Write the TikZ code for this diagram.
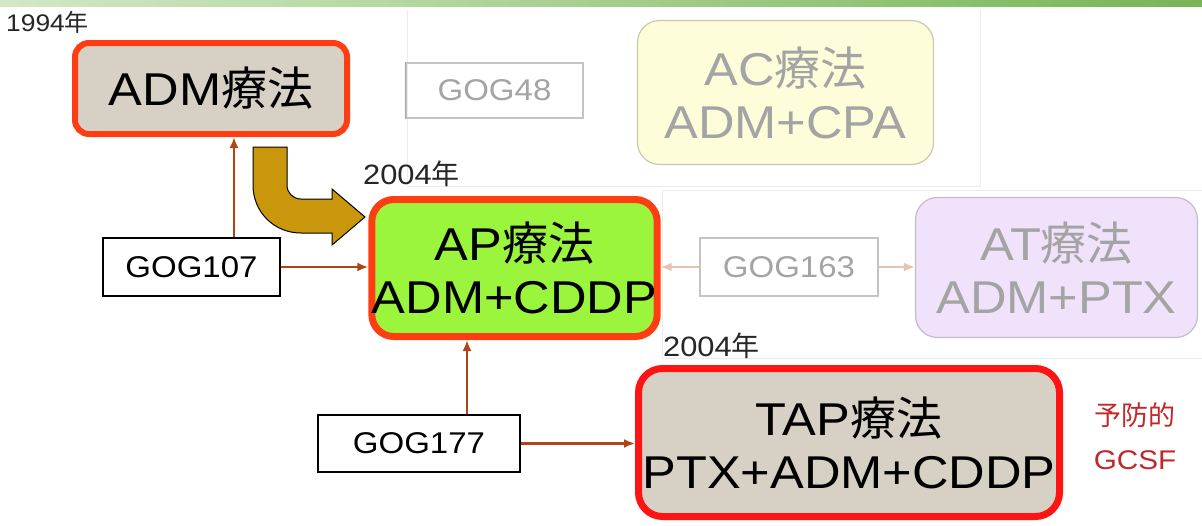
\documentclass[tikz,border=0pt]{standalone}
\usepackage{fontspec}
\setmainfont{Liberation Sans}[FakeStretch=1.1]
\newfontfamily\cjk{Noto Sans CJK JP}
\usetikzlibrary{arrows.meta}
\newcommand\J[1]{{\cjk #1}}
\definecolor{beige}{HTML}{D7D1C5}
\definecolor{orangered}{HTML}{FF3D12}
\definecolor{apgreen}{HTML}{9BF53C}
\definecolor{tapred}{HTML}{FF1414}
\definecolor{acfill}{HTML}{FDFDDA}
\definecolor{acdraw}{HTML}{C9C9B0}
\definecolor{atfill}{HTML}{EFE2FA}
\definecolor{atdraw}{HTML}{C4BCCC}
\definecolor{graytext}{HTML}{A4A4A4}
\definecolor{graybox}{HTML}{C4C4C4}
\definecolor{arrowbrown}{HTML}{B04418}
\definecolor{pinkarrow}{HTML}{E6C2B2}
\definecolor{gold}{HTML}{C9960C}
\definecolor{faint}{HTML}{ECECEC}
\definecolor{gcsfred}{HTML}{C0282A}
\definecolor{stripeL}{HTML}{D3E8C6}
\definecolor{stripeR}{HTML}{78B556}
\begin{document}
\begin{tikzpicture}[x=1pt,y=-1pt,
  bigbox/.style={rectangle, inner sep=0pt, align=center, font=\fontsize{46}{53}\selectfont},
  gogbox/.style={rectangle, inner sep=0pt, draw=black, line width=1.2pt, font=\fontsize{30}{34}\selectfont},
  faintgog/.style={gogbox, draw=graybox, text=graytext},
  yearlbl/.style={inner sep=0pt, anchor=west, text=black!85},
  conn/.style={draw=arrowbrown, line width=2.6pt, -{Latex[length=11pt,width=9pt]}},
  pconn/.style={draw=pinkarrow, line width=2.6pt, -{Latex[length=11pt,width=9pt]}},
  faintline/.style={draw=faint, line width=1pt}]
\useasboundingbox (0,0) rectangle (1202,525);
\fill[white] (0,0) rectangle (1202,525);
% top stripe
\shade[left color=stripeL, right color=stripeR] (0,0) rectangle (1202,6);
% faint panel outlines
\draw[faintline] (407,10) -- (407,186) -- (980,186) -- (980,10);
\draw[faintline] (1202,190) -- (662,190) -- (662,358) -- (1202,358);
% boxes
\node[bigbox, fill=beige, draw=orangered, line width=6pt, rounded corners=14pt,
      minimum width=272, minimum height=91] (adm) at (211,88.5) {ADM\J{療法}};
\node[faintgog, minimum width=177, minimum height=55] (gog48) at (494.5,90.5) {GOG48};
\draw[gray!70, line width=1.2pt] (gog48.north west) -- (gog48.south west);
\node[bigbox, fill=acfill, draw=acdraw, line width=1.2pt, rounded corners=22pt, text=graytext,
      minimum width=296, minimum height=144] (ac) at (785.5,92.5) {AC\J{療法}\\ADM+CPA};
\node[bigbox, fill=apgreen, draw=orangered, line width=7pt, rounded corners=22pt,
      minimum width=278, minimum height=137] (ap) at (514.5,268) {AP\J{療法}\\ADM+CDDP};
\node[gogbox, minimum width=177, minimum height=58] (gog107) at (191.5,267) {GOG107};
\node[faintgog, minimum width=178, minimum height=58] (gog163) at (789,267) {GOG163};
\node[bigbox, fill=atfill, draw=atdraw, line width=1.2pt, rounded corners=22pt, text=graytext,
      minimum width=282, minimum height=140] (at) at (1056.5,267.5) {AT\J{療法}\\ADM+PTX};
\node[gogbox, minimum width=202, minimum height=57] (gog177) at (419,443.5) {GOG177};
\node[bigbox, fill=beige, draw=tapred, line width=7pt, rounded corners=24pt,
      minimum width=421, minimum height=148] (tap) at (849,442.5) {TAP\J{療法}\\PTX+ADM+CDDP};
% labels
\node[yearlbl, font=\fontsize{24}{26}\selectfont] (y1994) at (6,22) {1994\J{年}};
\node[yearlbl, font=\fontsize{28}{30}\selectfont] (y2004a) at (363,174) {2004\J{年}};
\node[yearlbl, font=\fontsize{28}{30}\selectfont] (y2004b) at (663,346) {2004\J{年}};
\node[inner sep=0pt, align=center, text=gcsfred, font=\fontsize{27}{44}\selectfont] (gcsf) at (1135,436) {\J{予防的}\\GCSF};
% connectors
\coordinate (c1) at (234,0);
\coordinate (c2) at (467,0);
\draw[conn] (gog107.north -| c1) -- (adm.south -| c1);
\draw[conn] (gog107.east) -- (gog107.east -| ap.west);
\draw[conn] (gog177.north -| c2) -- (ap.south -| c2);
\draw[conn] (gog177.east) -- (gog177.east -| tap.west);
\draw[pconn] (gog163.west) -- (gog163.west -| ap.east);
\draw[pconn] (gog163.east) -- (gog163.east -| at.west);
% gold bent arrow
\filldraw[fill=gold, draw=black, line width=1pt, line join=miter]
  (253,147) -- (287,147) -- (287,185) .. controls (287,193) and (293,199) .. (301,199)
  -- (332,199) -- (332,189) -- (365,217) -- (332,245) -- (332,233) -- (301,233)
  .. controls (274,233) and (253,212) .. (253,185) -- cycle;
\end{tikzpicture}
\end{document}
